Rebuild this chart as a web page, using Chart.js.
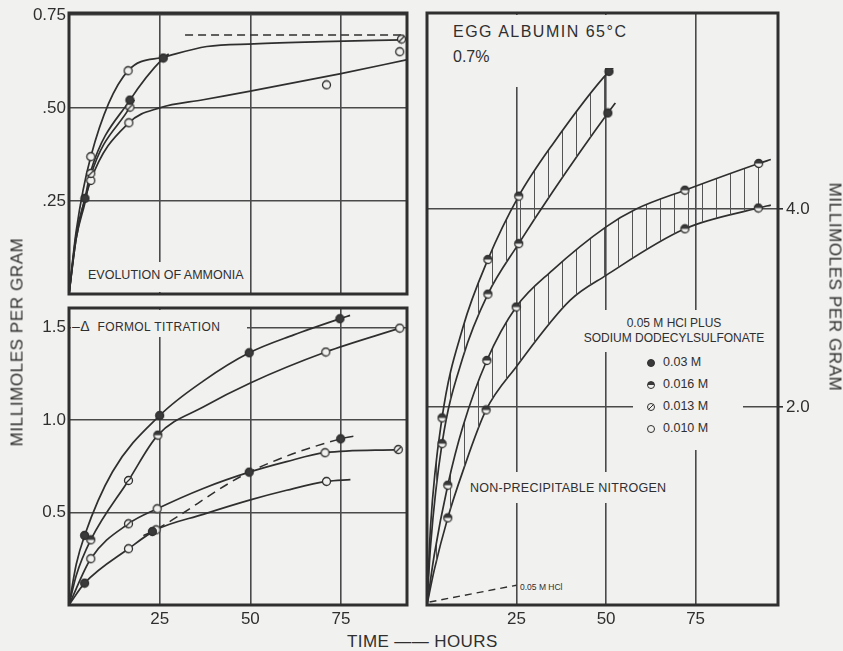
<!DOCTYPE html>
<html>
<head>
<meta charset="utf-8">
<title>Egg albumin 65°C</title>
<script src="https://cdn.jsdelivr.net/npm/chart.js@4.4.0/dist/chart.umd.min.js"></script>
<style>
  body { margin: 0; background: #f1f1ef; }
  #page { position: relative; width: 843px; height: 651px; overflow: hidden; background: #f1f1ef;
          font-family: "Liberation Sans", Arial, sans-serif; color: #2f2f2f; }
  canvas { position: absolute; }
  .note { position: absolute; box-sizing: border-box; background: #f1f1ef; white-space: nowrap; line-height: 1; }
  .axis-title { position: absolute; white-space: nowrap; font-size: 17px; letter-spacing: 0.6px; line-height: 1; }
  .mk { display: inline-block; width: 8px; height: 8px; border: 1.3px solid #2f2f2f; border-radius: 50%;
        box-sizing: border-box; vertical-align: -1px; margin-right: 8px; background: #f1f1ef; }
  .mk.filled { background: #3a3a3a; }
  .mk.half { background: linear-gradient(#3a3a3a 50%, #f1f1ef 50%); }
  .mk.hatched { background: linear-gradient(135deg, #f1f1ef 42%, #2f2f2f 42%, #2f2f2f 58%, #f1f1ef 58%); }
  .row { height: 22px; line-height: 22px; }
</style>
</head>
<body>
<div id="page">
  <canvas id="ammonia" width="420" height="300" style="left:0;top:0"></canvas>
  <canvas id="formol" width="420" height="330" style="left:0;top:300px"></canvas>
  <canvas id="nitrogen" width="463" height="630" style="left:380px;top:0"></canvas>

  <!-- panel labels (their background also breaks the grid lines, as in the print) -->
  <div class="note" style="left:80px;top:262px;width:167px;height:30px;padding:7px 0 0 8px;font-size:12.5px">EVOLUTION OF AMMONIA</div>
  <div class="note" style="left:71px;top:310px;width:176px;height:27px;padding:9px 0 0 1px;font-size:12px;letter-spacing:0.4px"><span style="font-size:14px">–Δ</span>&nbsp;&nbsp;FORMOL TITRATION</div>

  <div class="note" style="left:440px;top:15px;width:196px;height:53px;padding:9px 0 0 13px;font-size:16px;letter-spacing:1.5px">EGG ALBUMIN 65°C</div>
  <div class="note" style="left:440px;top:46px;width:90px;height:41px;padding:3px 0 0 13px;font-size:16px">0.7%</div>

  <div class="note" style="left:578px;top:310px;width:192px;height:42px;padding-top:6px;font-size:12px;line-height:15px;text-align:center">0.05 M HCl PLUS<br>SODIUM DODECYLSULFONATE</div>
  <div class="note" style="left:633px;top:350px;width:110px;height:100px;padding:1px 0 0 14px;font-size:12.5px">
    <div class="row"><span class="mk filled"></span>0.03 M</div>
    <div class="row"><span class="mk half"></span>0.016 M</div>
    <div class="row"><span class="mk hatched"></span>0.013 M</div>
    <div class="row"><span class="mk"></span>0.010 M</div>
  </div>
  <div class="note" style="left:464px;top:472px;width:210px;height:31px;padding:10px 0 0 6px;font-size:12.5px;letter-spacing:0.25px">NON-PRECIPITABLE NITROGEN</div>
  <div class="note" style="left:519px;top:582px;width:56px;height:11px;padding:1px 0 0 1px;font-size:8.5px">0.05 M HCl</div>

  <div class="axis-title" style="left:17px;top:342px;transform:translate(-50%,-50%) rotate(-90deg)">MILLIMOLES PER GRAM</div>
  <div class="axis-title" style="left:835px;top:287px;transform:translate(-50%,-50%) rotate(90deg)">MILLIMOLES PER GRAM</div>
  <div class="axis-title" style="left:347px;top:633px;letter-spacing:0.4px">TIME —— HOURS</div>
</div>

<script>
// ---- Evolution of ammonia (top left), hours / mmol per g ----
const ammHoursA = [0, 2, 6, 16.3, 26, 38, 51, 70, 92];
const ammA = [0, 0.17, 0.369, 0.600, 0.636, 0.665, 0.672, 0.678, 0.683];
const ammHoursB = [0, 2, 4.4, 6, 16.8, 26, 27.5];
const ammB = [0, 0.16, 0.257, 0.33, 0.521, 0.634, 0.645];
const ammHoursC = [0, 2, 4.4, 6, 16.8, 18];
const ammC = [0, 0.15, 0.245, 0.318, 0.502, 0.522];
const ammHoursD = [0, 2, 6, 16.5, 25, 37, 50, 75, 93];
const ammD = [0, 0.15, 0.305, 0.46, 0.50, 0.522, 0.545, 0.592, 0.629];
const ammLimitHours = [32, 92];
const ammLimit = [0.696, 0.696];
// measured points
const ammFilledHours = [4.4, 16.8, 26];
const ammFilled = [0.257, 0.521, 0.634];
const ammHatchedHours = [6, 16.8, 91.7];
const ammHatched = [0.324, 0.502, 0.685];
const ammOpenHours = [6, 16.3, 6, 16.5, 71, 91.2];
const ammOpen = [0.369, 0.600, 0.305, 0.46, 0.562, 0.651];

// ---- Formol titration (bottom left) ----
const forHours1 = [0, 2, 4.3, 12, 25, 37, 49.7, 62, 74.7, 77.5];
const for1 = [0, 0.22, 0.376, 0.72, 1.024, 1.21, 1.363, 1.46, 1.547, 1.565];
const forHours2 = [0, 2, 6, 16.4, 24.5, 37, 50, 70.8, 91.2];
const for2 = [0, 0.16, 0.352, 0.673, 0.918, 1.07, 1.2, 1.367, 1.496];
const forHours3 = [0, 6, 16.4, 24.3, 37, 49.7, 60, 70.6, 90.8];
const for3 = [0, 0.25, 0.439, 0.52, 0.63, 0.718, 0.775, 0.823, 0.84];
const forHours4 = [0, 4.3, 16.4, 24, 37, 50, 60, 71, 77.6];
const for4 = [0, 0.118, 0.304, 0.406, 0.49, 0.568, 0.62, 0.668, 0.678];
const forDashHours = [20.5, 23, 49.7, 74.9, 79.7];
const forDash = [0.375, 0.397, 0.718, 0.898, 0.916];
const forFilledHours = [4.3, 25, 49.7, 74.7, 4.3, 23, 49.7, 74.9];
const forFilled = [0.376, 1.024, 1.363, 1.547, 0.118, 0.397, 0.718, 0.898];
const forHalfHours = [6, 24.5];
const forHalf = [0.352, 0.918];
const forHatchedHours = [16.4, 16.4, 90.8];
const forHatched = [0.673, 0.439, 0.84];
const forOpenHours = [70.8, 91.2, 6, 24.3, 70.6, 16.4, 24, 71];
const forOpen = [1.367, 1.496, 0.25, 0.52, 0.823, 0.304, 0.406, 0.668];

// ---- Non-precipitable nitrogen (right) ----
const npnHoursA = [0, 1, 4.2, 10, 17, 25.6, 35, 50.8, 53.3];
const npnA = [0, 0.8, 1.89, 2.8, 3.49, 4.13, 4.65, 5.39, 5.47];
const npnHoursB = [0, 1, 4.2, 10, 17, 25.6, 35, 50.5, 52.6];
const npnB = [0, 0.6, 1.63, 2.5, 3.14, 3.65, 4.17, 4.97, 5.07];
const npnHoursC = [0, 2, 5.8, 10, 16.7, 24.9, 35, 50, 58.4, 72, 92.6, 96];
const npnC = [0, 0.5, 1.21, 1.8, 2.47, 3.01, 3.38, 3.82, 4.0, 4.19, 4.46, 4.5];
const npnHoursD = [0, 2, 5.8, 10, 16.5, 25, 40, 50, 72, 92.5, 96];
const npnD = [0, 0.35, 0.88, 1.35, 1.97, 2.41, 3.08, 3.33, 3.80, 4.01, 4.04];
const hclHours = [0.7, 25];
const hcl = [0.03, 0.2];
const npnFilledHours = [50.8, 50.5];
const npnFilled = [5.39, 4.97];
const npnHalfHours = [4.2, 17, 25.6, 4.2, 17, 25.6, 5.8, 16.7, 24.9, 72, 92.6, 5.8, 16.5, 72, 92.5];
const npnHalf = [1.89, 3.49, 4.13, 1.63, 3.14, 3.65, 1.21, 2.47, 3.01, 4.19, 4.46, 0.88, 1.97, 3.80, 4.01];

// ticks
const hourTicks = [25, 50, 75];
const hourLabels = ['25', '50', '75'];
const ammTicks = [0.25, 0.5, 0.75];
const ammLabels = ['.25', '.50', '0.75'];
const forTicks = [0.5, 1.0, 1.5];
const forLabels = ['0.5', '1.0', '1.5'];
const npnTicks = [2, 4];
const npnLabels = ['2.0', '4.0'];

const PAPER = '#f1f1ef';
const INK = '#2f2f2f';
const GRID = '#4a4a4a';
const FONT = '"Liberation Sans", Arial, sans-serif';

function pts(xs, ys) {
    return xs.map((x, i) => ({ x: x, y: ys[i] }));
}

// little point symbols like the printed ones
function makeMarker(kind) {
    const c = document.createElement('canvas');
    c.width = 11; c.height = 11;
    const g = c.getContext('2d');
    g.beginPath(); g.arc(5.5, 5.5, 4, 0, Math.PI * 2);
    g.fillStyle = kind === 'filled' ? '#3a3a3a' : PAPER;
    g.fill();
    g.strokeStyle = INK; g.lineWidth = 1.3;
    if (kind === 'half') {
        g.beginPath(); g.arc(5.5, 5.5, 4, Math.PI, 0); g.closePath();
        g.fillStyle = '#3a3a3a'; g.fill();
    }
    if (kind === 'hatched') {
        g.beginPath(); g.moveTo(3, 8); g.lineTo(8, 3); g.stroke();
    }
    g.beginPath(); g.arc(5.5, 5.5, 4, 0, Math.PI * 2); g.stroke();
    return c;
}
const markers = {
    filled: makeMarker('filled'),
    half: makeMarker('half'),
    hatched: makeMarker('hatched'),
    open: makeMarker('open')
};

// vertical hatching between pairs of curves
const tile = document.createElement('canvas');
tile.width = 14; tile.height = 4;
const tg = tile.getContext('2d');
tg.fillStyle = '#555';
tg.fillRect(0, 0, 1, 4);
const hatch = document.createElement('canvas').getContext('2d').createPattern(tile, 'repeat');

function curve(xs, ys, extra) {
    return Object.assign({
        data: pts(xs, ys), borderColor: INK, borderWidth: 1.7, pointRadius: 0,
        cubicInterpolationMode: 'monotone', fill: false, order: 1
    }, extra || {});
}

function marks(xs, ys, kind) {
    return { data: pts(xs, ys), showLine: false, pointStyle: markers[kind], pointRadius: 5, order: 0 };
}

const framePlugin = {
    id: 'frame',
    afterDraw(chart) {
        const { ctx, chartArea: a } = chart;
        ctx.save();
        ctx.strokeStyle = INK;
        ctx.lineWidth = 3;
        ctx.strokeRect(a.left, a.top, a.right - a.left, a.bottom - a.top);
        ctx.restore();
    }
};

function panelOptions(o) {
    return {
        responsive: false,
        animation: false,
        devicePixelRatio: 1,
        layout: { padding: o.padding },
        plugins: { legend: { display: false }, tooltip: { enabled: false } },
        scales: {
            x: {
                type: 'linear', min: 0, max: o.xMax,
                afterBuildTicks: s => { s.ticks = hourTicks.map(v => ({ value: v })); },
                afterFit: s => { s.height = o.xHeight; s.paddingLeft = 0; s.paddingRight = 0; },
                grid: { color: GRID, lineWidth: 1.6, drawTicks: false },
                border: { display: false },
                ticks: {
                    display: o.xLabels, padding: 4, color: INK,
                    font: { size: 17, family: FONT },
                    callback: (v, i) => hourLabels[i]
                }
            },
            y: {
                type: 'linear', position: o.yPos, min: 0, max: o.yMax,
                afterBuildTicks: s => { s.ticks = o.yTicks.map(v => ({ value: v })); },
                afterFit: s => { s.width = o.yWidth; s.paddingTop = 0; s.paddingBottom = 0; },
                grid: { color: GRID, lineWidth: 1.6, drawTicks: o.yPos === 'right', tickLength: 5, tickColor: INK },
                border: { display: false },
                ticks: {
                    padding: 3, color: INK,
                    font: { size: 17, family: FONT },
                    callback: (v, i) => o.yLabels[i]
                }
            }
        }
    };
}

document.addEventListener('DOMContentLoaded', function () {
    new Chart(document.getElementById('ammonia'), {
        type: 'line',
        data: {
            datasets: [
                curve(ammHoursA, ammA),
                curve(ammHoursB, ammB),
                curve(ammHoursC, ammC),
                curve(ammHoursD, ammD),
                curve(ammLimitHours, ammLimit, { borderDash: [8, 5], borderWidth: 1.5 }),
                marks(ammFilledHours, ammFilled, 'filled'),
                marks(ammHatchedHours, ammHatched, 'hatched'),
                marks(ammOpenHours, ammOpen, 'open')
            ]
        },
        options: panelOptions({
            padding: { top: 13, right: 13, bottom: 6, left: 0 },
            xMax: 93.2, xHeight: 0, xLabels: false,
            yPos: 'left', yMax: 0.755, yWidth: 69, yTicks: ammTicks, yLabels: ammLabels
        }),
        plugins: [framePlugin]
    });

    new Chart(document.getElementById('formol'), {
        type: 'line',
        data: {
            datasets: [
                curve(forHours1, for1),
                curve(forHours2, for2),
                curve(forHours3, for3),
                curve(forHours4, for4),
                curve(forDashHours, forDash, { borderDash: [9, 6], borderWidth: 1.5 }),
                marks(forFilledHours, forFilled, 'filled'),
                marks(forHalfHours, forHalf, 'half'),
                marks(forHatchedHours, forHatched, 'hatched'),
                marks(forOpenHours, forOpen, 'open')
            ]
        },
        options: panelOptions({
            padding: { top: 8, right: 13, bottom: 0, left: 0 },
            xMax: 93.2, xHeight: 25, xLabels: true,
            yPos: 'left', yMax: 1.605, yWidth: 69, yTicks: forTicks, yLabels: forLabels
        }),
        plugins: [framePlugin]
    });

    new Chart(document.getElementById('nitrogen'), {
        type: 'line',
        data: {
            datasets: [
                curve(npnHoursA, npnA, { fill: 1, backgroundColor: hatch }),
                curve(npnHoursB, npnB),
                curve(npnHoursC, npnC, { fill: 3, backgroundColor: hatch }),
                curve(npnHoursD, npnD),
                curve(hclHours, hcl, { borderDash: [7, 5], borderWidth: 1.4, cubicInterpolationMode: 'default' }),
                marks(npnFilledHours, npnFilled, 'filled'),
                marks(npnHalfHours, npnHalf, 'half')
            ]
        },
        options: panelOptions({
            padding: { top: 13, right: 0, bottom: 0, left: 47 },
            xMax: 98, xHeight: 25, xLabels: true,
            yPos: 'right', yMax: 5.98, yWidth: 65, yTicks: npnTicks, yLabels: npnLabels
        }),
        plugins: [framePlugin]
    });
});
</script>
</body>
</html>
